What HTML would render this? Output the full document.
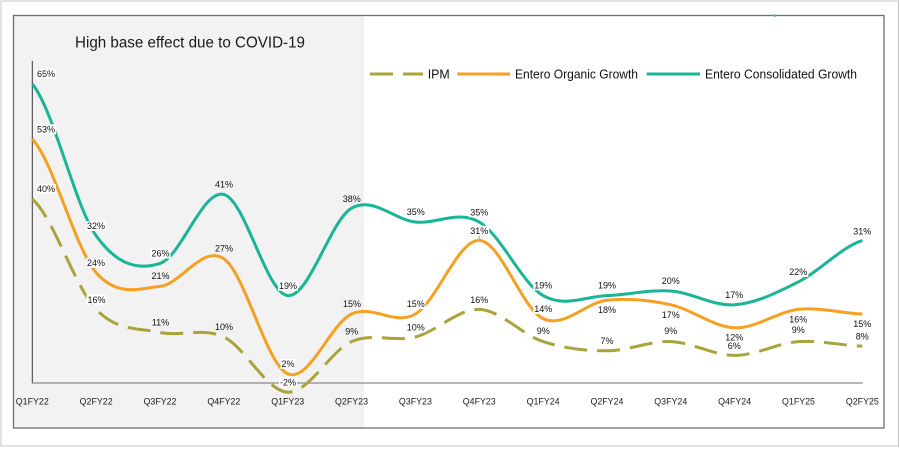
<!DOCTYPE html>
<html>
<head>
<meta charset="utf-8">
<style>
  html,body{margin:0;padding:0;background:#fff;}
  svg{display:block;}
  .lbl{font-family:"Liberation Sans",sans-serif;font-size:9px;fill:#111;text-anchor:middle;}
  .xl{font-family:"Liberation Sans",sans-serif;font-size:9px;fill:#1a1a1a;text-anchor:middle;}
  .lg{font-family:"Liberation Sans",sans-serif;font-size:13px;fill:#111;}
</style>
</head>
<body>
<svg width="900" height="451" viewBox="0 0 900 451" xmlns="http://www.w3.org/2000/svg">
  <!-- outer frame -->
  <rect x="1" y="1" width="897.5" height="445" fill="#fff" stroke="#c4c4c4" stroke-width="1"/>
  <!-- shaded region -->
  <rect x="13.5" y="15.5" width="350.5" height="412.5" fill="#f2f2f2"/>
  <!-- inner border -->
  <rect x="13.5" y="15.5" width="870.5" height="412.5" fill="none" stroke="#6f6f6f" stroke-width="1.3"/>
  <circle cx="775" cy="15.5" r="1.3" fill="#3fb0d8"/>

  <!-- title -->
  <text x="75" y="47.3" font-family="Liberation Sans, sans-serif" font-size="15.5" fill="#1a1a1a" textLength="230" lengthAdjust="spacingAndGlyphs">High base effect due to COVID-19</text>

  <!-- legend -->
  <line x1="370" y1="74" x2="393" y2="74" stroke="#aaa33c" stroke-width="3"/>
  <line x1="403" y1="74" x2="423" y2="74" stroke="#aaa33c" stroke-width="3"/>
  <text class="lg" x="427.7" y="78.7" textLength="22" lengthAdjust="spacingAndGlyphs">IPM</text>
  <line x1="457.3" y1="74" x2="510" y2="74" stroke="#f6a023" stroke-width="3"/>
  <text class="lg" x="515" y="78.7" textLength="123" lengthAdjust="spacingAndGlyphs">Entero Organic Growth</text>
  <line x1="646.7" y1="74" x2="700" y2="74" stroke="#1ab497" stroke-width="3"/>
  <text class="lg" x="705" y="78.7" textLength="152" lengthAdjust="spacingAndGlyphs">Entero Consolidated Growth</text>

  <!-- axes -->
  <line x1="32.3" y1="61" x2="32.3" y2="383" stroke="#3a3a3a" stroke-width="1"/>
  <line x1="32" y1="383" x2="862.7" y2="383" stroke="#8c8c8c" stroke-width="1.3"/>

  <!-- series -->
  <path fill="none" stroke="#aaa33c" stroke-width="3" stroke-dasharray="23 10" d="M32.3,199 C53.58,217.4 74.87,287.17 96.15,309.4 C117.43,331.63 138.72,327.8 160,332.4 C181.28,337 202.57,327.03 223.85,337 C245.13,346.97 266.42,391.43 287.7,392.2 C308.98,392.97 330.27,350.8 351.55,341.6 C372.83,332.4 394.12,342.37 415.4,337 C436.68,331.63 457.97,308.63 479.25,309.4 C500.53,310.17 521.82,334.7 543.1,341.6 C564.38,348.5 585.67,350.8 606.95,350.8 C628.23,350.8 649.52,340.83 670.8,341.6 C692.08,342.37 713.37,355.4 734.65,355.4 C755.93,355.4 777.22,343.13 798.5,341.6 C819.78,340.07 841.07,345.43 862.35,346.2"/>
  <path fill="none" stroke="#f6a023" stroke-width="3" d="M32.3,139.2 C53.58,161.43 74.87,248.07 96.15,272.6 C117.43,297.13 138.72,288.7 160,286.4 C181.28,284.1 202.57,244.23 223.85,258.8 C245.13,273.37 266.42,364.6 287.7,373.8 C308.98,383 330.27,323.97 351.55,314 C372.83,304.03 394.12,326.27 415.4,314 C436.68,301.73 457.97,239.63 479.25,240.4 C500.53,241.17 521.82,308.63 543.1,318.6 C564.38,328.57 585.67,302.5 606.95,300.2 C628.23,297.9 649.52,300.2 670.8,304.8 C692.08,309.4 713.37,327.03 734.65,327.8 C755.93,328.57 777.22,311.7 798.5,309.4 C819.78,307.1 841.07,313.23 862.35,314"/>
  <path fill="none" stroke="#1ab497" stroke-width="3" d="M32.3,84 C53.58,109.3 74.87,205.9 96.15,235.8 C117.43,265.7 138.72,270.3 160,263.4 C181.28,256.5 202.57,189.03 223.85,194.4 C245.13,199.77 266.42,293.3 287.7,295.6 C308.98,297.9 330.27,220.47 351.55,208.2 C372.83,195.93 394.12,219.7 415.4,222 C436.68,224.3 457.97,209.73 479.25,222 C500.53,234.27 521.82,283.33 543.1,295.6 C564.38,307.87 585.67,296.37 606.95,295.6 C628.23,294.83 649.52,289.47 670.8,291 C692.08,292.53 713.37,306.33 734.65,304.8 C755.93,303.27 777.22,292.53 798.5,281.8 C819.78,271.07 841.07,247.3 862.35,240.4"/>

  <!-- leader line for 31% -->
  <line x1="479.2" y1="235" x2="479.2" y2="239" stroke="#888" stroke-width="0.8"/>

  <!-- label boxes -->
  <g fill="#fff">
    <rect x="36" y="69" width="20" height="10"/>
    <rect x="36" y="124.3" width="20" height="10"/>
    <rect x="36" y="184" width="20" height="10"/>
    <rect x="86" y="221" width="20" height="10"/>
    <rect x="86" y="257.7" width="20" height="10"/>
    <rect x="86.5" y="294.7" width="20" height="10"/>
    <rect x="150.5" y="248.5" width="20" height="10"/>
    <rect x="278" y="280.7" width="20" height="10"/>
    <rect x="280.5" y="358.8" width="15" height="10"/>
    <rect x="279" y="377.3" width="18" height="10"/>
    <rect x="405.7" y="207" width="20" height="10"/>
    <rect x="405.7" y="299" width="20" height="10"/>
    <rect x="405.7" y="322.3" width="20" height="10"/>
    <rect x="469.2" y="207.3" width="20" height="10"/>
    <rect x="469.2" y="225.7" width="20" height="10"/>
    <rect x="469.2" y="294.7" width="20" height="10"/>
    <rect x="533.3" y="280.3" width="20" height="10"/>
    <rect x="533.3" y="304" width="20" height="10"/>
    <rect x="535.8" y="326" width="15" height="10"/>
    <rect x="597" y="280.3" width="20" height="10"/>
    <rect x="597" y="305" width="20" height="10"/>
    <rect x="599.5" y="335.7" width="15" height="10"/>
    <rect x="660.7" y="276" width="20" height="10"/>
    <rect x="660.7" y="309.7" width="20" height="10"/>
    <rect x="663.2" y="326" width="15" height="10"/>
    <rect x="724.3" y="289.7" width="20" height="10"/>
    <rect x="724.3" y="332.3" width="20" height="10"/>
    <rect x="726.8" y="340.7" width="15" height="10"/>
    <rect x="788.3" y="267" width="20" height="10"/>
    <rect x="788.3" y="314.3" width="20" height="10"/>
    <rect x="790.8" y="324.7" width="15" height="10"/>
    <rect x="852.3" y="226.5" width="20" height="10"/>
    <rect x="852.3" y="318.7" width="20" height="10"/>
    <rect x="854.8" y="331.3" width="15" height="10"/>
  </g>

  <!-- data labels -->
  <g class="lbl">
    <text x="46" y="77.2">65%</text>
    <text x="46" y="132.5">53%</text>
    <text x="46" y="192.2">40%</text>
    <text x="96" y="229.2">32%</text>
    <text x="96" y="265.9">24%</text>
    <text x="96.5" y="302.9">16%</text>
    <text x="160.5" y="256.7">26%</text>
    <text x="160.5" y="279.2">21%</text>
    <text x="160.5" y="325.7">11%</text>
    <text x="224" y="187.5">41%</text>
    <text x="224" y="251.7">27%</text>
    <text x="224" y="330.2">10%</text>
    <text x="288" y="288.9">19%</text>
    <text x="288" y="367">2%</text>
    <text x="288" y="385.5">-2%</text>
    <text x="351.7" y="201.9">38%</text>
    <text x="352" y="307.2">15%</text>
    <text x="351.7" y="334.7">9%</text>
    <text x="415.7" y="215.2">35%</text>
    <text x="415.7" y="307.2">15%</text>
    <text x="415.7" y="330.5">10%</text>
    <text x="479.2" y="215.5">35%</text>
    <text x="479.2" y="233.9">31%</text>
    <text x="479.2" y="302.9">16%</text>
    <text x="543.3" y="288.5">19%</text>
    <text x="543.3" y="312.2">14%</text>
    <text x="543.3" y="334.2">9%</text>
    <text x="607" y="288.5">19%</text>
    <text x="607" y="313.2">18%</text>
    <text x="607" y="343.9">7%</text>
    <text x="670.7" y="284.2">20%</text>
    <text x="670.7" y="317.9">17%</text>
    <text x="670.7" y="334.2">9%</text>
    <text x="734.3" y="297.9">17%</text>
    <text x="734.3" y="340.5">12%</text>
    <text x="734.3" y="348.9">6%</text>
    <text x="798.3" y="275.2">22%</text>
    <text x="798.3" y="322.5">16%</text>
    <text x="798.3" y="332.9">9%</text>
    <text x="862.3" y="234.7">31%</text>
    <text x="862.3" y="326.9">15%</text>
    <text x="862.3" y="339.5">8%</text>
  </g>

  <!-- x axis labels -->
  <g class="xl">
    <text x="32.3" y="404.5" textLength="33" lengthAdjust="spacingAndGlyphs">Q1FY22</text>
    <text x="96.15" y="404.5" textLength="33" lengthAdjust="spacingAndGlyphs">Q2FY22</text>
    <text x="160" y="404.5" textLength="33" lengthAdjust="spacingAndGlyphs">Q3FY22</text>
    <text x="223.85" y="404.5" textLength="33" lengthAdjust="spacingAndGlyphs">Q4FY22</text>
    <text x="287.7" y="404.5" textLength="33" lengthAdjust="spacingAndGlyphs">Q1FY23</text>
    <text x="351.55" y="404.5" textLength="33" lengthAdjust="spacingAndGlyphs">Q2FY23</text>
    <text x="415.4" y="404.5" textLength="33" lengthAdjust="spacingAndGlyphs">Q3FY23</text>
    <text x="479.25" y="404.5" textLength="33" lengthAdjust="spacingAndGlyphs">Q4FY23</text>
    <text x="543.1" y="404.5" textLength="33" lengthAdjust="spacingAndGlyphs">Q1FY24</text>
    <text x="606.95" y="404.5" textLength="33" lengthAdjust="spacingAndGlyphs">Q2FY24</text>
    <text x="670.8" y="404.5" textLength="33" lengthAdjust="spacingAndGlyphs">Q3FY24</text>
    <text x="734.65" y="404.5" textLength="33" lengthAdjust="spacingAndGlyphs">Q4FY24</text>
    <text x="798.5" y="404.5" textLength="33" lengthAdjust="spacingAndGlyphs">Q1FY25</text>
    <text x="862.35" y="404.5" textLength="33" lengthAdjust="spacingAndGlyphs">Q2FY25</text>
  </g>
</svg>
</body>
</html>
